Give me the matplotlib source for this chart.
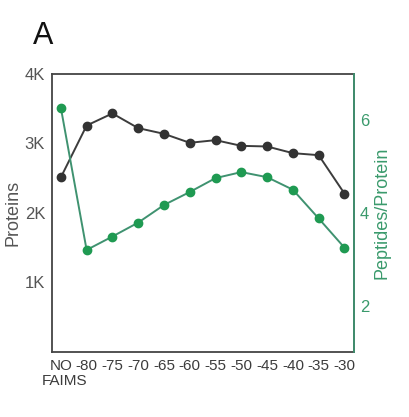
import matplotlib.pyplot as plt
import numpy as np

plt.rcParams['font.family'] = ['Liberation Sans', 'DejaVu Sans']

# FAIMS compensation voltage settings
cv_labels = ['NO', '-80', '-75', '-70', '-65', '-60', '-55',
             '-50', '-45', '-40', '-35', '-30']
proteins = [2510, 3256, 3430, 3219, 3137, 3008, 3046,
            2964, 2955, 2859, 2830, 2278]
pep_per_prot = [6.27, 3.20, 3.49, 3.79, 4.17, 4.45, 4.75,
                4.88, 4.77, 4.50, 3.88, 3.25]
left_ticks = [1000, 2000, 3000, 4000]
left_ticklabels = ['1K', '2K', '3K', '4K']
right_ticks = [2, 4, 6]

dark = '#3c3c3c'
green_line = '#3f9270'
green_mk = '#1f9a52'
green_txt = '#3a9a6c'

fig = plt.figure(figsize=(4.10, 4.17), dpi=100)
ax = fig.add_axes([0.127, 0.156, 0.737, 0.667])
x = np.arange(len(cv_labels))

ax.plot(x, proteins, '-o', color=dark, lw=1.4, markersize=6,
        markerfacecolor='#333333', markeredgecolor='#333333', zorder=3)
ax.set_ylim(0, 4000)
ax.set_yticks(left_ticks)
ax.set_yticklabels(left_ticklabels)
ax.set_xlim(-0.34, len(cv_labels) - 1 + 0.38)
ax.set_xticks(x)
ax.set_xticklabels(cv_labels)
ax.tick_params(axis='x', length=0, pad=5, labelsize=11, colors=dark)
ax.tick_params(axis='y', length=0, pad=5, labelsize=12, colors='#555555')
ax.set_ylabel('Proteins', fontsize=13, color='#555555', labelpad=2)
for s in ax.spines.values():
    s.set_color('#444444')
    s.set_linewidth(1.3)

# second line of the first category label
ax.annotate('FAIMS', xy=(0, 0), xycoords=('data', 'axes fraction'),
            xytext=(3, -16), textcoords='offset points',
            ha='center', va='top', fontsize=11, color=dark)

ax2 = ax.twinx()
ax2.plot(x, pep_per_prot, '-o', color=green_line, lw=1.4, markersize=6,
         markerfacecolor=green_mk, markeredgecolor=green_mk, zorder=3)
ax2.set_ylim(1, 7)
ax2.set_yticks(right_ticks)
ax2.tick_params(axis='y', length=0, pad=4, labelsize=12, colors=green_txt)
ax2.set_ylabel('Peptides/Protein', fontsize=13, color=green_txt, labelpad=3)
ax2.spines['right'].set_color(green_line)
ax2.spines['right'].set_linewidth(1.3)
for k in ['left', 'top', 'bottom']:
    ax2.spines[k].set_visible(False)

fig.text(0.08, 0.895, 'A', fontsize=22, color='#111111', va='baseline')

fig.savefig('out.png', dpi=100)
